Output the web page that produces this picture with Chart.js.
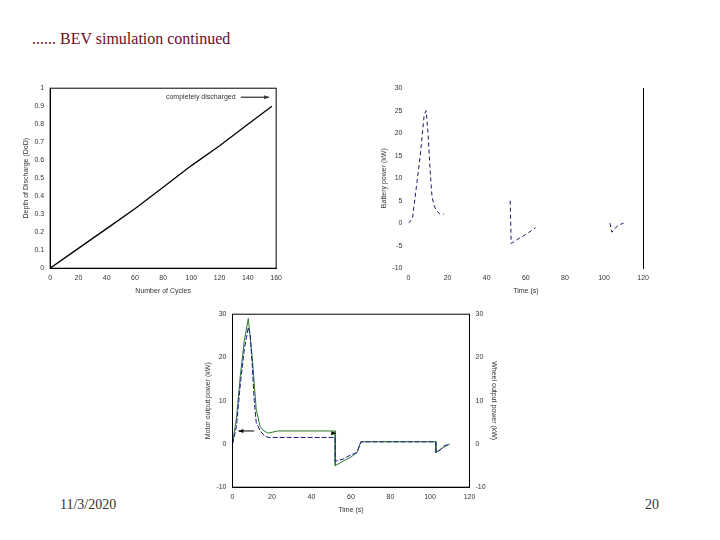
<!DOCTYPE html><html><head><script src="https://cdn.jsdelivr.net/npm/chart.js@4"></script>
<style>body{margin:0;width:720px;height:540px;background:#fff;position:relative;font-family:"Liberation Serif",serif;overflow:hidden}
.c{position:absolute}#t{position:absolute;left:32px;top:30px;font-size:16px;color:#6a0e1e}
.f{position:absolute;top:497px;font-size:14px;color:#333}</style></head><body>
<div id="t">...... BEV simulation continued</div>
<div class="f" style="left:60px">11/3/2020</div><div class="f" style="left:645px">20</div>
<div class="c" style="left:21px;top:81px;width:264px;height:215px"><canvas id="c1"></canvas></div>
<div class="c" style="left:379px;top:81px;width:273px;height:215px"><canvas id="c2"></canvas></div>
<div class="c" style="left:203px;top:307px;width:296px;height:208px"><canvas id="c3"></canvas></div>
<script>
const cycles=[0,20,40,60,80,100,120,140,157];
const dod=[0,0.11,0.22,0.33,0.45,0.57,0.68,0.8,0.9];
const t2=[0,2,4,6,8,9,10,11,12,13,14,16,18,null,52,52.5,56,60,65,null,103,104,107,110];
const p2=[0,1,8,15,24,25,20,12,6,4,3,2,2,null,5,-4.5,-3.5,-2.5,-1,null,0,-2,-0.5,0];
const t3a=[0,2,4,6,8,9,10,11,12,14,16,18,20,52,52,56,60,63,65,103,103,105,107,110];
const p3a=[0,4,14,22,27,25,18,10,5,3,2,1.5,1.5,1.5,-4,-3.5,-2.5,-2,0.5,0.5,-2,-1.5,-0.5,0];
const t3b=[0,2,4,6,8,10,12,14,16,18,23,52,52,56,60,63,65,103,103,106,110];
const p3b=[0,6,16,24,29,20,8,4,3,2.5,3,3,-5,-4,-3,-2,0.5,0.5,-2,-1,0];
const pts=(x,y)=>x.map((v,i)=>v===null?{x:NaN,y:NaN}:{x:v,y:y[i]});
const tk={color:'#333',font:{size:7,family:'Liberation Sans'}};
const grid={display:false,drawTicks:true,tickLength:3,color:'#000'};
const bd={color:'#000',width:1};
function ax(min,max,step,title,pos,extra){return Object.assign({type:'linear',position:pos,min,max,ticks:Object.assign({stepSize:step,callback:v=>String(+v.toFixed(2))},tk),grid,border:bd,title:{display:!!title,text:title,color:'#333',font:{size:7,family:'Liberation Sans'},padding:1}},extra||{});}
const base={responsive:true,maintainAspectRatio:false,animation:false,plugins:{legend:{display:false},tooltip:{enabled:false}},elements:{point:{radius:0}}};
const boxPlug={id:'box',afterDraw(c){const a=c.chartArea,x=c.ctx;x.save();x.strokeStyle='#000';x.lineWidth=1;x.strokeRect(a.left,a.top,a.right-a.left,a.bottom-a.top);x.restore();}};
const ann1={id:'ann',afterDraw(c){const x=c.ctx,s=c.scales;const y=s.y.getPixelForValue(0.95);x.save();x.font='7px Liberation Sans';x.fillStyle='#333';x.fillText('completely discharged',s.x.getPixelForValue(82),y+2);
const x0=s.x.getPixelForValue(135),x1=s.x.getPixelForValue(155);x.strokeStyle='#000';x.beginPath();x.moveTo(x0,y);x.lineTo(x1,y);x.stroke();x.beginPath();x.moveTo(x1,y);x.lineTo(x1-5,y-2);x.lineTo(x1-5,y+2);x.fill();x.restore();}};
new Chart(c1,{type:'line',data:{datasets:[{data:pts(cycles,dod),borderColor:'#000',borderWidth:1.3}]},
options:Object.assign({},base,{scales:{x:ax(0,160,20,'Number of Cycles','bottom'),y:ax(0,1,0.1,'Depth of Discharge (DoD)','left')}}),plugins:[boxPlug,ann1]});
new Chart(c2,{type:'line',data:{datasets:[{data:pts(t2,p2),borderColor:'#1a1a6a',borderWidth:1,borderDash:[4,3],spanGaps:false}]},
options:Object.assign({},base,{scales:{x:ax(0,120,20,'Time (s)','bottom',{border:{display:false}}),y:ax(-10,30,5,'Battery power (kW)','left',{border:{display:false}}),y2:ax(-10,30,5,'','right',{ticks:{display:false}})}})});
const ann3={id:'ann3',afterDraw(c){const x=c.ctx,s=c.scales;x.save();x.strokeStyle='#000';x.fillStyle='#000';const y=s.y.getPixelForValue(3);const a=s.x.getPixelForValue(3),b=s.x.getPixelForValue(11);x.beginPath();x.moveTo(a,y);x.lineTo(b,y);x.stroke();x.beginPath();x.moveTo(a,y);x.lineTo(a+5,y-2);x.lineTo(a+5,y+2);x.fill();
const p=s.x.getPixelForValue(50),q=s.y.getPixelForValue(2.5);x.beginPath();x.moveTo(p,q-2);x.lineTo(p+5,q);x.lineTo(p,q+2);x.fill();x.restore();}};
new Chart(c3,{type:'line',data:{datasets:[{data:pts(t3a,p3a),borderColor:'#1a1a8a',borderWidth:1,borderDash:[5,2]},{data:pts(t3b,p3b),borderColor:'#2a7a2a',borderWidth:1}]},
options:Object.assign({},base,{scales:{x:ax(0,120,20,'Time (s)','bottom'),y:ax(-10,30,10,'Motor output power (kW)','left'),y2:ax(-10,30,10,'Wheel output power (kW)','right')}}),plugins:[boxPlug,ann3]});
</script></body></html>
